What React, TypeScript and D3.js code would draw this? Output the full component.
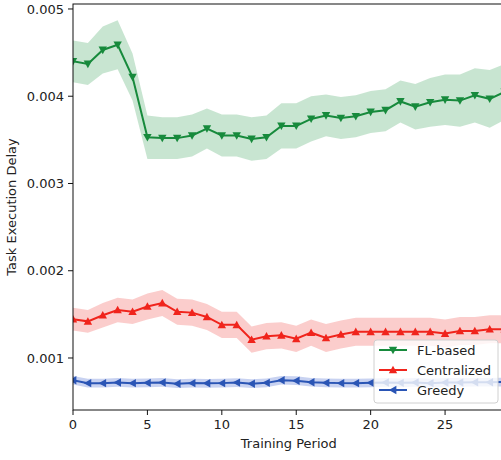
import React from "react";
import * as d3 from "d3";

// Training periods 0..29
const periods: number[] = d3.range(0, 30);

// Mean task execution delay per training period
const flBased: number[] = [
  0.00440, 0.00437, 0.00453, 0.00459, 0.00422, 0.00353, 0.00352, 0.00352, 0.00355, 0.00363,
  0.00355, 0.00355, 0.00351, 0.00353, 0.00366, 0.00366, 0.00374, 0.00378, 0.00375, 0.00377,
  0.00382, 0.00384, 0.00394, 0.00388, 0.00393, 0.00396, 0.00395, 0.00401, 0.00397, 0.00405,
];
const flBasedStd: number[] = [
  0.00024, 0.00024, 0.00027, 0.00028, 0.00027, 0.00025, 0.00024, 0.00024, 0.00024, 0.00023,
  0.00024, 0.00024, 0.00025, 0.00025, 0.00026, 0.00026, 0.00026, 0.00024, 0.00024, 0.00024,
  0.00024, 0.00024, 0.00024, 0.00026, 0.00028, 0.00029, 0.00030, 0.00031, 0.00033, 0.00032,
];

const centralized: number[] = [
  0.001445, 0.00142, 0.00149, 0.00155, 0.00153, 0.00159, 0.00163, 0.00153, 0.00152, 0.00147,
  0.00138, 0.00138, 0.00121, 0.00125, 0.00126, 0.00122, 0.00129, 0.00123, 0.00127, 0.00130,
  0.00130, 0.00130, 0.00130, 0.00130, 0.00130, 0.00128, 0.00131, 0.00131, 0.00133, 0.00133,
];
const centralizedStd: number[] = [
  0.00013, 0.00013, 0.00014, 0.00014, 0.00014, 0.00015, 0.00015, 0.00015, 0.00015, 0.00015,
  0.00015, 0.00015, 0.00015, 0.00015, 0.00015, 0.00015, 0.00015, 0.00016, 0.00016, 0.00016,
  0.00016, 0.00016, 0.00016, 0.00016, 0.00016, 0.00016, 0.00016, 0.00016, 0.00016, 0.00016,
];

const greedy: number[] = [
  0.000745, 0.000712, 0.000712, 0.00072, 0.000712, 0.000715, 0.00072, 0.000705, 0.000712, 0.00071,
  0.000712, 0.000718, 0.000705, 0.000715, 0.000745, 0.00074, 0.000722, 0.000715, 0.000712, 0.000712,
  0.000715, 0.00072, 0.000715, 0.00072, 0.000712, 0.00072, 0.00072, 0.000722, 0.000722, 0.000725,
];
const greedyStd: number[] = new Array(30).fill(0.00005);

const xTicks: number[] = [0, 5, 10, 15, 20, 25];
const yTicks: number[] = [0.001, 0.002, 0.003, 0.004, 0.005];

type Marker = "down" | "up" | "left";

const seriesList = [
  { name: "FL-based", mean: flBased, std: flBasedStd, color: "#178a3c", band: "#3aa35a", marker: "down" as Marker },
  { name: "Centralized", mean: centralized, std: centralizedStd, color: "#f0241c", band: "#f24a48", marker: "up" as Marker },
  { name: "Greedy", mean: greedy, std: greedyStd, color: "#2a55b5", band: "#3a5ccc", marker: "left" as Marker },
];

const W = 501;
const H = 460;
const left = 73;
const top = 4;
const bottom = 410;
const right = 504.6;

function triangle(kind: Marker, cx: number, cy: number, r: number): string {
  const pts: [number, number][] =
    kind === "down"
      ? [[cx - r, cy - r * 0.8], [cx + r, cy - r * 0.8], [cx, cy + r]]
      : kind === "up"
      ? [[cx - r, cy + r * 0.8], [cx + r, cy + r * 0.8], [cx, cy - r]]
      : [[cx + r * 0.8, cy - r], [cx + r * 0.8, cy + r], [cx - r, cy]];
  return "M" + pts.map((p) => p.join(",")).join("L") + "Z";
}

export default function App() {
  const x = d3.scaleLinear().domain([0, 29]).range([left, right]);
  const y = d3.scaleLinear().domain([0.000404, 0.005057]).range([bottom, top]);

  const font = "'DejaVu Sans', sans-serif";

  return (
    <svg
      width={W}
      height={H}
      style={{ position: "absolute", left: 0, top: 0, background: "#fff" }}
      fontFamily={font}
    >
      <defs>
        <clipPath id="plotClip">
          <rect x={left} y={top} width={right - left} height={bottom - top} />
        </clipPath>
      </defs>

      <g clipPath="url(#plotClip)">
        {seriesList.map((s) => {
          const area = d3
            .area<number>()
            .x((_, i) => x(periods[i]))
            .y0((d, i) => y(d - s.std[i]))
            .y1((d, i) => y(d + s.std[i]));
          return <path key={s.name + "-band"} d={area(s.mean) || ""} fill={s.band} fillOpacity={0.28} stroke="none" />;
        })}
        {seriesList.map((s) => {
          const line = d3
            .line<number>()
            .x((_, i) => x(periods[i]))
            .y((d) => y(d));
          return (
            <g key={s.name}>
              <path d={line(s.mean) || ""} fill="none" stroke={s.color} strokeWidth={2} />
              {s.mean.map((d, i) => (
                <path key={i} d={triangle(s.marker, x(periods[i]), y(d), 4.2)} fill={s.color} />
              ))}
            </g>
          );
        })}
      </g>

      {/* axes frame */}
      <rect x={left} y={top} width={right - left} height={bottom - top} fill="none" stroke="#111" strokeWidth={1} />

      {/* y axis ticks */}
      {yTicks.map((t) => (
        <g key={t}>
          <line x1={left - 5} x2={left} y1={y(t)} y2={y(t)} stroke="#111" strokeWidth={1} />
          <text x={left - 9} y={y(t)} dy="0.35em" textAnchor="end" fontSize={13} fill="#222">
            {t.toFixed(3)}
          </text>
        </g>
      ))}

      {/* x axis ticks */}
      {xTicks.map((t) => (
        <g key={t}>
          <line x1={x(t)} x2={x(t)} y1={bottom} y2={bottom + 5} stroke="#111" strokeWidth={1} />
          <text x={x(t)} y={bottom + 19} textAnchor="middle" fontSize={13} fill="#222">
            {t}
          </text>
        </g>
      ))}

      <text x={(left + right) / 2} y={448} textAnchor="middle" fontSize={13} fill="#222">
        Training Period
      </text>
      <text
        transform={`translate(16, ${(top + bottom) / 2}) rotate(-90)`}
        textAnchor="middle"
        fontSize={13}
        fill="#222"
      >
        Task Execution Delay
      </text>

      {/* legend */}
      <g>
        <rect x={374} y={340} width={124} height={63} rx={3} fill="#fff" fillOpacity={0.8} stroke="#d0d0d0" />
        {seriesList.map((s, i) => {
          const ly = 350 + i * 20;
          return (
            <g key={s.name + "-legend"}>
              <line x1={379} x2={407} y1={ly} y2={ly} stroke={s.color} strokeWidth={2} />
              <path d={triangle(s.marker, 393, ly, 4.2)} fill={s.color} />
              <text x={417} y={ly} dy="0.35em" fontSize={13} fill="#222">
                {s.name}
              </text>
            </g>
          );
        })}
      </g>
    </svg>
  );
}
